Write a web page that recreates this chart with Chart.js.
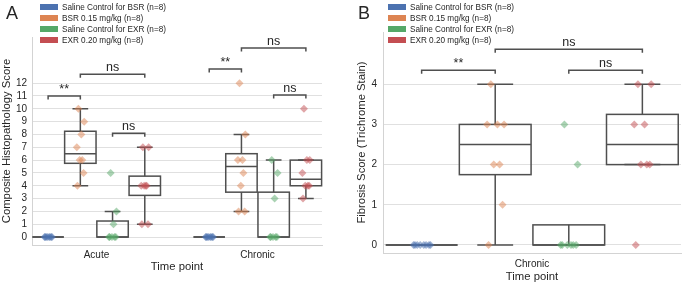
<!DOCTYPE html>
<html>
<head>
<meta charset="utf-8">
<script src="https://cdn.jsdelivr.net/npm/chart.js@4.4.0/dist/chart.umd.min.js"></script>
<style>
  body { margin: 0; background: #fff; }
  #wrap { position: relative; width: 685px; height: 284px; }
  canvas { position: absolute; top: 0; }
  #chartA { left: 0; }
  #chartB { left: 345px; }
</style>
</head>
<body>
<div id="wrap">
  <canvas id="chartA" width="345" height="284"></canvas>
  <canvas id="chartB" width="340" height="284"></canvas>
</div>
<script>
// groups shown in both panels
const seriesNames = ['Saline Control for BSR (n=8)', 'BSR 0.15 mg/kg (n=8)', 'Saline Control for EXR (n=8)', 'EXR 0.20 mg/kg (n=8)'];
const seriesColors = [[76, 114, 176], [221, 132, 82], [85, 168, 104], [196, 78, 82]];

// panel A: composite histopathology score, one list per time point
const timePointsA = ['Acute', 'Chronic'];
const salineBsrA = [[0, 0, 0, 0, 0, 0, 0, 0], [0, 0, 0, 0, 0, 0, 0, 0]];
const bsrA = [[4, 5, 6, 6, 7, 8, 9, 10], [2, 2, 4, 5, 6, 6, 8, 12]];
const salineExrA = [[0, 0, 0, 0, 0, 1, 2, 5], [0, 0, 0, 0, 0, 3, 5, 6]];
const exrA = [[1, 1, 4, 4, 4, 4, 7, 7], [3, 4, 4, 4, 5, 6, 6, 10]];
const yTicksA = [0, 1, 2, 3, 4, 5, 6, 7, 8, 9, 10, 11, 12];

// panel B: fibrosis score (trichrome stain)
const timePointsB = ['Chronic'];
const salineBsrB = [[0, 0, 0, 0, 0, 0, 0, 0]];
const bsrB = [[0, 1, 2, 2, 3, 3, 3, 4]];
const salineExrB = [[0, 0, 0, 0, 0, 0, 2, 3]];
const exrB = [[0, 2, 2, 2, 3, 3, 4, 4]];
const yTicksB = [0, 1, 2, 3, 4];

// significance annotations: time point, pair of series, bracket height, label
const testsA = [
  { group: 0, from: 0, to: 1, y: 11.0, text: '**' },
  { group: 0, from: 1, to: 3, y: 12.7, text: 'ns' },
  { group: 0, from: 2, to: 3, y: 8.1, text: 'ns' },
  { group: 1, from: 0, to: 1, y: 13.1, text: '**' },
  { group: 1, from: 1, to: 3, y: 14.75, text: 'ns' },
  { group: 1, from: 2, to: 3, y: 11.07, text: 'ns' }
];
const testsB = [
  { group: 0, from: 0, to: 1, y: 4.35, text: '**' },
  { group: 0, from: 1, to: 3, y: 4.87, text: 'ns' },
  { group: 0, from: 2, to: 3, y: 4.35, text: 'ns' }
];

const FONT = "'Liberation Sans', Arial, sans-serif";
const TEXT = '#262626';
const LINE = '#4f4f4f';
const HUE_OFFSET = [-0.3, -0.1, 0.1, 0.3];
const BOX_WIDTH = 0.195;
const JITTER = [-0.018, 0.02, -0.004, 0.012, -0.022, 0.006, 0.024, -0.012];

function rgba(c, a) {
  return 'rgba(' + c[0] + ',' + c[1] + ',' + c[2] + ',' + a + ')';
}

function quantile(s, q) {
  const pos = (s.length - 1) * q;
  const lo = Math.floor(pos);
  const hi = Math.ceil(pos);
  return s[lo] + (s[hi] - s[lo]) * (pos - lo);
}

function boxStats(values) {
  const s = values.slice().sort((a, b) => a - b);
  const q1 = quantile(s, 0.25), med = quantile(s, 0.5), q3 = quantile(s, 0.75);
  const iqr = q3 - q1;
  const lo = Math.min(...s.filter(v => v >= q1 - 1.5 * iqr));
  const hi = Math.max(...s.filter(v => v <= q3 + 1.5 * iqr));
  return { q1, med, q3, lo, hi };
}

const boxPlugin = {
  id: 'boxes',
  beforeDatasetsDraw(chart, args, opts) {
    const xs = chart.scales.x, ys = chart.scales.y, ctx = chart.ctx;
    const px = v => xs.getPixelForValue(v);
    const py = v => ys.getPixelForValue(v);
    ctx.save();
    ctx.strokeStyle = LINE;
    ctx.lineWidth = 1.5;
    opts.series.forEach((groups, h) => {
      groups.forEach((vals, g) => {
        const st = boxStats(vals);
        const xc = g + HUE_OFFSET[h];
        const xl = px(xc - BOX_WIDTH / 2), xr = px(xc + BOX_WIDTH / 2);
        const cl = px(xc - BOX_WIDTH / 4), cr = px(xc + BOX_WIDTH / 4);
        const xm = px(xc);
        ctx.beginPath();
        ctx.moveTo(xm, py(st.q3)); ctx.lineTo(xm, py(st.hi));
        ctx.moveTo(xm, py(st.q1)); ctx.lineTo(xm, py(st.lo));
        ctx.moveTo(cl, py(st.hi)); ctx.lineTo(cr, py(st.hi));
        ctx.moveTo(cl, py(st.lo)); ctx.lineTo(cr, py(st.lo));
        ctx.moveTo(xl, py(st.med)); ctx.lineTo(xr, py(st.med));
        ctx.stroke();
        ctx.strokeRect(xl, py(st.q3), xr - xl, py(st.q1) - py(st.q3));
      });
    });
    ctx.restore();
  },
  afterDatasetsDraw(chart, args, opts) {
    const xs = chart.scales.x, ys = chart.scales.y, ctx = chart.ctx;
    ctx.save();
    ctx.strokeStyle = LINE;
    ctx.lineWidth = 1.5;
    ctx.fillStyle = TEXT;
    ctx.font = '12.5px ' + FONT;
    ctx.textAlign = 'center';
    ctx.textBaseline = 'alphabetic';
    opts.tests.forEach(t => {
      const x1 = xs.getPixelForValue(t.group + HUE_OFFSET[t.from]);
      const x2 = xs.getPixelForValue(t.group + HUE_OFFSET[t.to]);
      const y = ys.getPixelForValue(t.y);
      ctx.beginPath();
      ctx.moveTo(x1, y + 3.5);
      ctx.lineTo(x1, y);
      ctx.lineTo(x2, y);
      ctx.lineTo(x2, y + 3.5);
      ctx.stroke();
      ctx.fillText(t.text, (x1 + x2) / 2, y - 3);
    });
    ctx.restore();
  },
  afterDraw(chart, args, opts) {
    const ctx = chart.ctx;
    ctx.save();
    ctx.fillStyle = TEXT;
    ctx.font = '18px ' + FONT;
    ctx.textBaseline = 'alphabetic';
    ctx.textAlign = 'left';
    ctx.fillText(opts.letter, opts.letterX, 18.5);
    ctx.font = '8.2px ' + FONT;
    ctx.textBaseline = 'middle';
    seriesNames.forEach((name, i) => {
      const y = 7 + 11 * i;
      ctx.fillStyle = rgba(seriesColors[i], 1);
      ctx.fillRect(opts.legendX, y - 3, 18, 6);
      ctx.fillStyle = TEXT;
      ctx.fillText(name, opts.legendX + 22, y + 0.5);
    });
    ctx.restore();
  }
};

function makeDatasets(series) {
  return series.map((groups, h) => {
    const pts = [];
    groups.forEach((vals, g) => {
      vals.forEach((v, k) => {
        pts.push({ x: g + HUE_OFFSET[h] + JITTER[k % JITTER.length], y: v });
      });
    });
    return {
      label: seriesNames[h],
      data: pts,
      pointStyle: 'rectRot',
      pointRadius: 4,
      pointBorderWidth: 0,
      backgroundColor: rgba(seriesColors[h], 0.5),
      borderColor: 'rgba(0,0,0,0)'
    };
  });
}

function makeChart(id, cfg) {
  return new Chart(document.getElementById(id), {
    type: 'scatter',
    data: { datasets: makeDatasets(cfg.series) },
    plugins: [boxPlugin],
    options: {
      responsive: false,
      animation: false,
      events: [],
      layout: { padding: cfg.padding },
      plugins: {
        legend: { display: false },
        tooltip: { enabled: false },
        boxes: { series: cfg.series, tests: cfg.tests, letter: cfg.letter, letterX: cfg.letterX, legendX: cfg.legendX }
      },
      scales: {
        x: {
          type: 'linear',
          min: cfg.xMin,
          max: cfg.xMax,
          afterBuildTicks: s => { s.ticks = cfg.groups.map((g, i) => ({ value: i })); },
          afterFit: s => { s.height = cfg.xHeight; },
          grid: { display: false, drawTicks: false },
          border: { display: true, color: '#d3d3d3', width: 1 },
          ticks: {
            autoSkip: false,
            maxRotation: 0,
            padding: cfg.xTickPad,
            color: TEXT,
            font: { family: FONT, size: 10 },
            callback: v => cfg.groups[Math.round(v)]
          },
          title: {
            display: true,
            text: 'Time point',
            color: TEXT,
            font: { family: FONT, size: 11.3 },
            padding: { top: 0, bottom: cfg.xTitlePad }
          }
        },
        y: {
          min: cfg.yMin,
          max: cfg.yMax,
          afterBuildTicks: s => { s.ticks = cfg.yTicks.map(v => ({ value: v })); },
          afterFit: s => { s.width = cfg.yWidth; },
          grid: { color: '#e0e0e0', lineWidth: 1, drawTicks: false },
          border: { display: true, color: '#d3d3d3', width: 1 },
          ticks: {
            padding: cfg.yTickPad,
            color: TEXT,
            font: { family: FONT, size: 10 }
          },
          title: {
            display: true,
            text: cfg.yTitle,
            color: TEXT,
            font: { family: FONT, size: 11.3 },
            padding: { top: cfg.yTitlePad, bottom: 0 }
          }
        }
      }
    }
  });
}

makeChart('chartA', {
  series: [salineBsrA, bsrA, salineExrA, exrA],
  groups: timePointsA,
  tests: testsA,
  yTicks: yTicksA,
  yTitle: 'Composite Histopathology Score',
  xMin: -0.4, xMax: 1.4,
  yMin: -0.62, yMax: 15.6,
  padding: { left: 0, right: 23, top: 37, bottom: 0 },
  xHeight: 39, yWidth: 32,
  xTickPad: 4, xTitlePad: 10, yTickPad: 5, yTitlePad: 0,
  letter: 'A', letterX: 6, legendX: 40
});

makeChart('chartB', {
  series: [salineBsrB, bsrB, salineExrB, exrB],
  groups: timePointsB,
  tests: testsB,
  yTicks: yTicksB,
  yTitle: 'Fibrosis Score (Trichrome Stain)',
  xMin: -0.405, xMax: 0.405,
  yMin: -0.2, yMax: 5.3,
  padding: { left: 0, right: 2, top: 32, bottom: 0 },
  xHeight: 31, yWidth: 38,
  xTickPad: 5, xTitlePad: 0, yTickPad: 6, yTitlePad: 10,
  letter: 'B', letterX: 13, legendX: 43
});
</script>
</body>
</html>
